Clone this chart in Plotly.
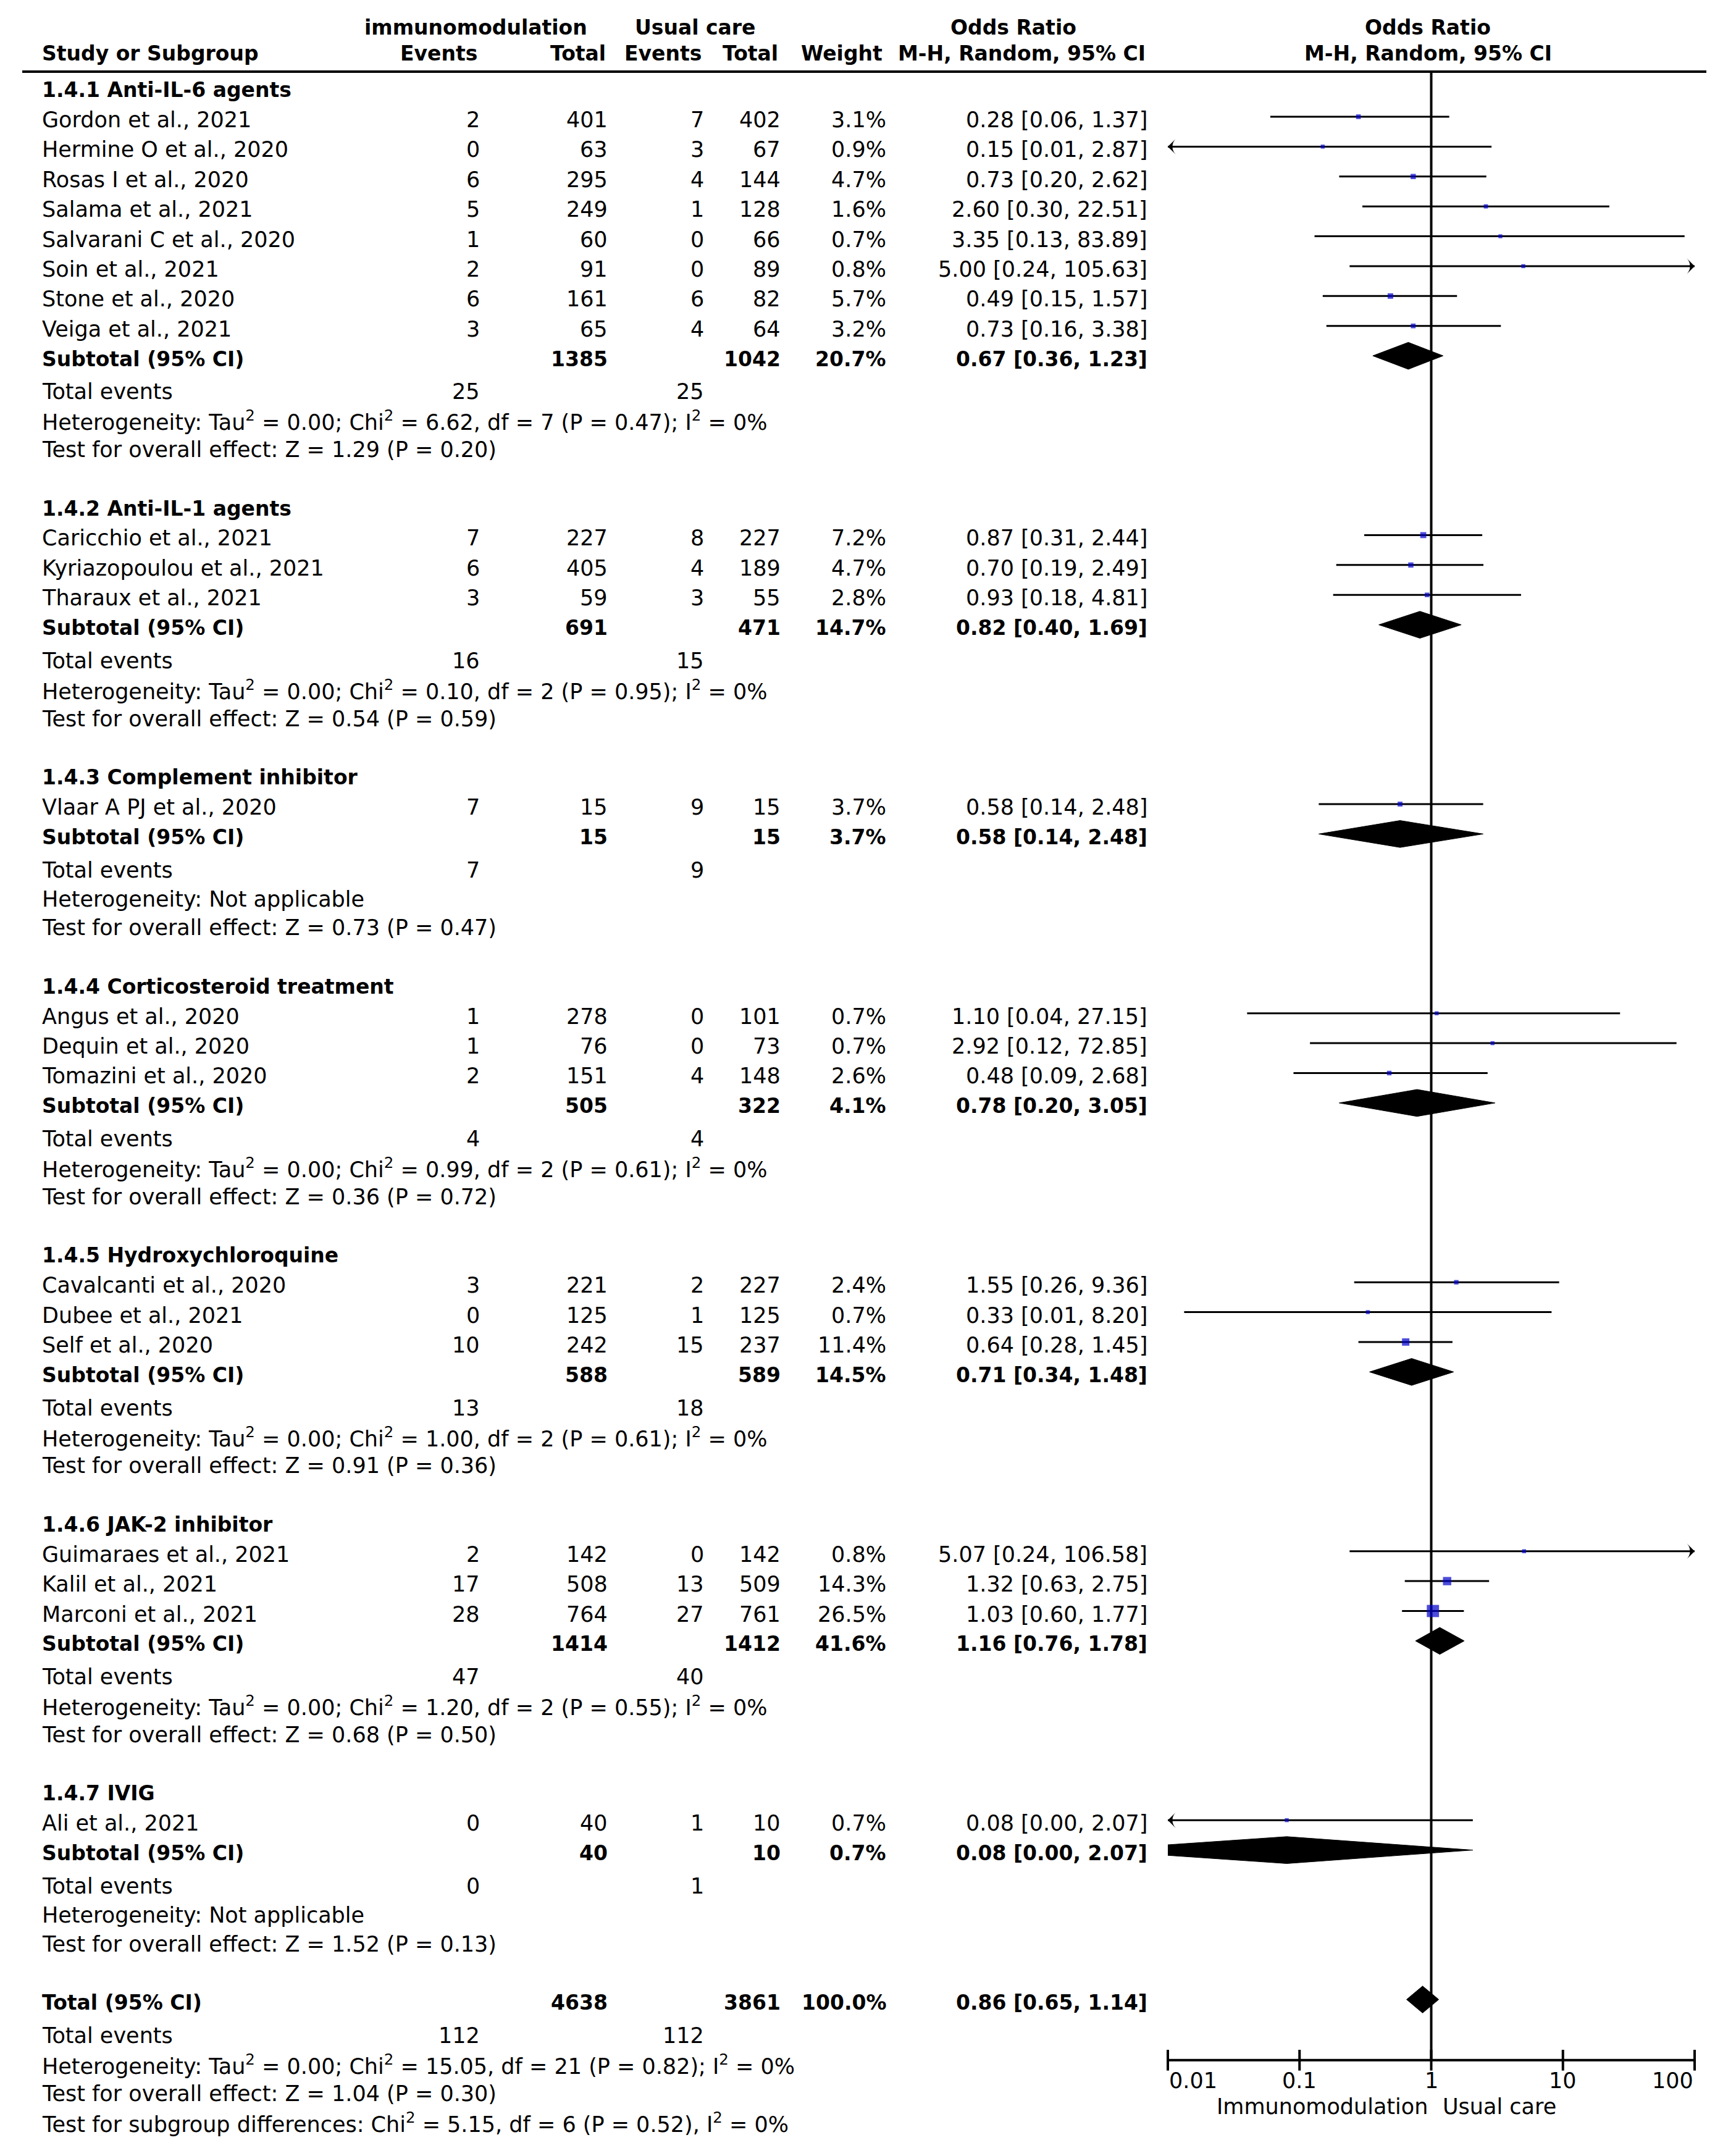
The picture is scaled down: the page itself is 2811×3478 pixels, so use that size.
import math
import plotly.graph_objects as go

# ---------------- data ----------------
group_titles = ["1.4.1 Anti-IL-6 agents", "1.4.2 Anti-IL-1 agents", "1.4.3 Complement inhibitor",
                "1.4.4 Corticosteroid treatment", "1.4.5 Hydroxychloroquine", "1.4.6 JAK-2 inhibitor",
                "1.4.7 IVIG"]
study_group = [0, 0, 0, 0, 0, 0, 0, 0, 1, 1, 1, 2, 3, 3, 3, 4, 4, 4, 5, 5, 5, 6]
study_names = ["Gordon et al., 2021", "Hermine O et al., 2020", "Rosas I et al., 2020", "Salama et al., 2021",
               "Salvarani C et al., 2020", "Soin et al., 2021", "Stone et al., 2020", "Veiga et al., 2021",
               "Caricchio et al., 2021", "Kyriazopoulou et al., 2021", "Tharaux et al., 2021",
               "Vlaar A PJ et al., 2020",
               "Angus et al., 2020", "Dequin et al., 2020", "Tomazini et al., 2020",
               "Cavalcanti et al., 2020", "Dubee et al., 2021", "Self et al., 2020",
               "Guimaraes et al., 2021", "Kalil et al., 2021", "Marconi et al., 2021",
               "Ali et al., 2021"]
ev_imm = [2, 0, 6, 5, 1, 2, 6, 3, 7, 6, 3, 7, 1, 1, 2, 3, 0, 10, 2, 17, 28, 0]
tot_imm = [401, 63, 295, 249, 60, 91, 161, 65, 227, 405, 59, 15, 278, 76, 151, 221, 125, 242, 142, 508, 764, 40]
ev_uc = [7, 3, 4, 1, 0, 0, 6, 4, 8, 4, 3, 9, 0, 0, 4, 2, 1, 15, 0, 13, 27, 1]
tot_uc = [402, 67, 144, 128, 66, 89, 82, 64, 227, 189, 55, 15, 101, 73, 148, 227, 125, 237, 142, 509, 761, 10]
weight = [3.1, 0.9, 4.7, 1.6, 0.7, 0.8, 5.7, 3.2, 7.2, 4.7, 2.8, 3.7, 0.7, 0.7, 2.6, 2.4, 0.7, 11.4,
          0.8, 14.3, 26.5, 0.7]
or_est = [0.28, 0.15, 0.73, 2.60, 3.35, 5.00, 0.49, 0.73, 0.87, 0.70, 0.93, 0.58, 1.10, 2.92, 0.48,
          1.55, 0.33, 0.64, 5.07, 1.32, 1.03, 0.08]
or_lo = [0.06, 0.008, 0.20, 0.30, 0.13, 0.24, 0.15, 0.16, 0.31, 0.19, 0.18, 0.14, 0.04, 0.12, 0.09,
         0.26, 0.0133, 0.28, 0.24, 0.63, 0.60, 0.0026]
or_hi = [1.37, 2.87, 2.62, 22.51, 83.89, 105.63, 1.57, 3.38, 2.44, 2.49, 4.81, 2.48, 27.15, 72.85, 2.68,
         9.36, 8.20, 1.45, 106.58, 2.75, 1.77, 2.07]

sub_tot_imm = [1385, 691, 15, 505, 588, 1414, 40]
sub_tot_uc = [1042, 471, 15, 322, 589, 1412, 10]
sub_weight = [20.7, 14.7, 3.7, 4.1, 14.5, 41.6, 0.7]
sub_est = [0.67, 0.82, 0.58, 0.78, 0.71, 1.16, 0.08]
sub_lo = [0.36, 0.40, 0.14, 0.20, 0.34, 0.76, 0.0026]
sub_hi = [1.23, 1.69, 2.48, 3.05, 1.48, 1.78, 2.07]
sub_ev_imm = [25, 16, 7, 4, 13, 47, 0]
sub_ev_uc = [25, 15, 9, 4, 18, 40, 1]
het_text = [
    "Heterogeneity: Tau<sup>2</sup> = 0.00; Chi<sup>2</sup> = 6.62, df = 7 (P = 0.47); I<sup>2</sup> = 0%",
    "Heterogeneity: Tau<sup>2</sup> = 0.00; Chi<sup>2</sup> = 0.10, df = 2 (P = 0.95); I<sup>2</sup> = 0%",
    "Heterogeneity: Not applicable",
    "Heterogeneity: Tau<sup>2</sup> = 0.00; Chi<sup>2</sup> = 0.99, df = 2 (P = 0.61); I<sup>2</sup> = 0%",
    "Heterogeneity: Tau<sup>2</sup> = 0.00; Chi<sup>2</sup> = 1.00, df = 2 (P = 0.61); I<sup>2</sup> = 0%",
    "Heterogeneity: Tau<sup>2</sup> = 0.00; Chi<sup>2</sup> = 1.20, df = 2 (P = 0.55); I<sup>2</sup> = 0%",
    "Heterogeneity: Not applicable",
]
effect_text = ["Test for overall effect: Z = 1.29 (P = 0.20)", "Test for overall effect: Z = 0.54 (P = 0.59)",
               "Test for overall effect: Z = 0.73 (P = 0.47)", "Test for overall effect: Z = 0.36 (P = 0.72)",
               "Test for overall effect: Z = 0.91 (P = 0.36)", "Test for overall effect: Z = 0.68 (P = 0.50)",
               "Test for overall effect: Z = 1.52 (P = 0.13)"]

total_tot_imm = 4638
total_tot_uc = 3861
total_weight = 100.0
total_est, total_lo, total_hi = 0.86, 0.65, 1.14
total_ev_imm, total_ev_uc = 112, 112
total_het = "Heterogeneity: Tau<sup>2</sup> = 0.00; Chi<sup>2</sup> = 15.05, df = 21 (P = 0.82); I<sup>2</sup> = 0%"
total_effect = "Test for overall effect: Z = 1.04 (P = 0.30)"
subgroup_diff = "Test for subgroup differences: Chi<sup>2</sup> = 5.15, df = 6 (P = 0.52), I<sup>2</sup> = 0%"

tick_vals = [0.01, 0.1, 1, 10, 100]
tick_text = ["0.01", "0.1", "1", "10", "100"]
favours_left = "Immunomodulation"
favours_right = "Usual care"

# ---------------- layout constants ----------------
W, H = 2811, 3478
FONT = "DejaVu Sans"
FS = 35
FS_BOLD = 33
U_PX = 48.39          # px per row unit
ROW0_PX = 189         # pixel of first study row
TEXT_SHIFT = -5
GAP_SUB_TE = 1.1
STAT_GAP = 0.97
GAP_GROUP = 1.96
XMIN, XMAX = 0.01, 100
FOREST_X0, FOREST_X1 = 1891, 2744
C_NAME = 66
C_EV1, C_TOT1, C_EV2, C_TOT2, C_W, C_OR = 779, 986, 1142, 1266, 1437, 1860
H_EV1, H_TOT1, H_EV2, H_TOT2, H_W, H_OR = 775, 983, 1138, 1262, 1431, 1857
C_FOREST_MID = 2312
DIAMOND_HALF = 0.45
BLUE = "#0000CC"

ann = []


def txt(x, y, s, anchor="left", bold=False, xref="x", yref="y"):
    ann.append(dict(x=x, y=y, xref=xref, yref=yref, text=f"<b>{s}</b>" if bold else s, showarrow=False,
                    xanchor=anchor, yanchor="middle", yshift=TEXT_SHIFT,
                    font=dict(family=FONT, size=FS_BOLD if bold else FS, color="black")))


def fmt_or(e, l, h):
    return f"{e:.2f} [{l:.2f}, {h:.2f}]"


# ---------------- header ----------------
HEAD1, HEAD2, RULE_Y = -3.08, -2.23, -1.51
txt(770, HEAD1, "immunomodulation", "center", True)
txt(1126, HEAD1, "Usual care", "center", True)
txt(1641, HEAD1, "Odds Ratio", "center", True)
txt(C_FOREST_MID, HEAD1, "Odds Ratio", "center", True)
txt(C_NAME, HEAD2, "Study or Subgroup", "left", True)
txt(H_EV1, HEAD2, "Events", "right", True)
txt(H_TOT1, HEAD2, "Total", "right", True)
txt(H_EV2, HEAD2, "Events", "right", True)
txt(H_TOT2, HEAD2, "Total", "right", True)
txt(H_W, HEAD2, "Weight", "right", True)
txt(H_OR, HEAD2, "M-H, Random, 95% CI", "right", True)
txt(C_FOREST_MID, HEAD2, "M-H, Random, 95% CI", "center", True)

# ---------------- rows ----------------
study_y = []
sub_y = []
hy = -1.0
for g, title in enumerate(group_titles):
    txt(C_NAME, hy, title, "left", True)
    idx = [i for i, sg in enumerate(study_group) if sg == g]
    for k, i in enumerate(idx):
        y = hy + 1 + k
        study_y.append(y)
        txt(C_NAME, y, study_names[i])
        txt(C_EV1, y, str(ev_imm[i]), "right")
        txt(C_TOT1, y, str(tot_imm[i]), "right")
        txt(C_EV2, y, str(ev_uc[i]), "right")
        txt(C_TOT2, y, str(tot_uc[i]), "right")
        txt(C_W, y, f"{weight[i]:.1f}%", "right")
        txt(C_OR, y, fmt_or(or_est[i], or_lo[i], or_hi[i]), "right")
    ys = hy + 1 + len(idx)
    sub_y.append(ys)
    txt(C_NAME, ys, "Subtotal (95% CI)", "left", True)
    txt(C_TOT1, ys, str(sub_tot_imm[g]), "right", True)
    txt(C_TOT2, ys, str(sub_tot_uc[g]), "right", True)
    txt(C_W, ys, f"{sub_weight[g]:.1f}%", "right", True)
    txt(C_OR, ys, fmt_or(sub_est[g], sub_lo[g], sub_hi[g]), "right", True)
    yte = ys + GAP_SUB_TE
    txt(C_NAME, yte, "Total events")
    txt(C_EV1, yte, str(sub_ev_imm[g]), "right")
    txt(C_EV2, yte, str(sub_ev_uc[g]), "right")
    txt(C_NAME, yte + STAT_GAP, het_text[g])
    txt(C_NAME, yte + 2 * STAT_GAP, effect_text[g])
    hy = yte + 2 * STAT_GAP + GAP_GROUP

ytot = hy
txt(C_NAME, ytot, "Total (95% CI)", "left", True)
txt(C_TOT1, ytot, str(total_tot_imm), "right", True)
txt(C_TOT2, ytot, str(total_tot_uc), "right", True)
txt(C_W, ytot, f"{total_weight:.1f}%", "right", True)
txt(C_OR, ytot, fmt_or(total_est, total_lo, total_hi), "right", True)
yte = ytot + GAP_SUB_TE
txt(C_NAME, yte, "Total events")
txt(C_EV1, yte, str(total_ev_imm), "right")
txt(C_EV2, yte, str(total_ev_uc), "right")
txt(C_NAME, yte + STAT_GAP, total_het)
txt(C_NAME, yte + 2 * STAT_GAP, total_effect)
txt(C_NAME, yte + 3 * STAT_GAP, subgroup_diff)

AXIS_Y = ytot + 2.03
TICKLAB_Y = AXIS_Y + 0.58
FAV_Y = AXIS_Y + 1.45

# ---------------- forest ----------------
fig = go.Figure()
FX = dict(xaxis="x2", yaxis="y2", hoverinfo="skip")

# vertical line of no effect
fig.add_trace(go.Scatter(x=[1, 1], y=[RULE_Y, AXIS_Y], mode="lines",
                         line=dict(color="black", width=4), **FX))

# CI lines
lx, ly = [], []
arrow_x, arrow_y, arrow_a = [], [], []
for i in range(len(study_names)):
    y = study_y[i]
    lo = max(or_lo[i], XMIN)
    hi = min(or_hi[i], XMAX)
    lx += [lo, hi, None]
    ly += [y, y, None]
    if or_lo[i] < XMIN:
        arrow_x.append(XMIN); arrow_y.append(y); arrow_a.append(-90)
    if or_hi[i] > XMAX:
        arrow_x.append(XMAX); arrow_y.append(y); arrow_a.append(90)
fig.add_trace(go.Scatter(x=lx, y=ly, mode="lines", line=dict(color="black", width=3),
                         cliponaxis=False, **FX))
fig.add_trace(go.Scatter(x=arrow_x, y=arrow_y, mode="markers",
                         marker=dict(symbol="arrow-wide", size=18, angle=arrow_a, color="black",
                                     line=dict(width=0)),
                         cliponaxis=False, **FX))

# squares
fig.add_trace(go.Scatter(x=or_est, y=study_y, mode="markers",
                         marker=dict(symbol="square", size=[6 + 0.52 * w for w in weight], color=BLUE,
                                     line=dict(width=0)),
                         cliponaxis=False, **FX))


def diamond(lo, est, hi, y, h):
    L, E, R = math.log10(lo), math.log10(est), math.log10(hi)
    a, b = math.log10(XMIN), math.log10(XMAX)
    pts = []
    if L < a:
        hh = h * (a - L) / (E - L)
        pts += [(a, y + hh), (a, y - hh)]
    else:
        pts += [(L, y)]
    pts += [(E, y - h)]
    if R > b:
        hh = h * (R - b) / (R - E)
        pts += [(b, y - hh), (b, y + hh)]
    else:
        pts += [(R, y)]
    pts += [(E, y + h)]
    pts.append(pts[0])
    return [10 ** p[0] for p in pts], [p[1] for p in pts]


for g in range(len(group_titles)):
    dx, dy = diamond(sub_lo[g], sub_est[g], sub_hi[g], sub_y[g], DIAMOND_HALF)
    fig.add_trace(go.Scatter(x=dx, y=dy, mode="lines", fill="toself", fillcolor="black",
                             line=dict(color="black", width=1), **FX))
dx, dy = diamond(total_lo, total_est, total_hi, ytot, DIAMOND_HALF)
fig.add_trace(go.Scatter(x=dx, y=dy, mode="lines", fill="toself", fillcolor="black",
                         line=dict(color="black", width=1), **FX))

# axis line + ticks
fig.add_trace(go.Scatter(x=[tick_vals[0], tick_vals[-1]], y=[AXIS_Y, AXIS_Y], mode="lines",
                         line=dict(color="black", width=4), **FX))
fig.add_trace(go.Scatter(x=tick_vals, y=[AXIS_Y] * len(tick_vals), mode="markers",
                         marker=dict(symbol="line-ns", size=24, line=dict(color="black", width=4)),
                         cliponaxis=False, **FX))
for k, (v, t) in enumerate(zip(tick_vals, tick_text)):
    anchor = "left" if k == 0 else ("right" if k == len(tick_vals) - 1 else "center")
    txt(math.log10(v), TICKLAB_Y, t, anchor, xref="x2", yref="y2")
ann.append(dict(x=0, y=FAV_Y, xref="x2", yref="y2", text=favours_left, showarrow=False, xanchor="right",
                yanchor="middle", xshift=-4, yshift=TEXT_SHIFT, font=dict(family=FONT, size=FS, color="black")))
ann.append(dict(x=0, y=FAV_Y, xref="x2", yref="y2", text=favours_right, showarrow=False, xanchor="left",
                yanchor="middle", xshift=16, yshift=TEXT_SHIFT, font=dict(family=FONT, size=FS, color="black")))

Y_RANGE = [(H - ROW0_PX) / U_PX, -ROW0_PX / U_PX]
fig.update_layout(
    width=W, height=H, margin=dict(l=0, r=0, t=0, b=0, pad=0),
    paper_bgcolor="white", plot_bgcolor="rgba(0,0,0,0)", showlegend=False,
    xaxis=dict(range=[0, W], domain=[0, 1], visible=False, fixedrange=True, anchor="y"),
    yaxis=dict(range=Y_RANGE, domain=[0, 1], visible=False, fixedrange=True, anchor="x"),
    xaxis2=dict(type="log", range=[math.log10(XMIN), math.log10(XMAX)],
                domain=[FOREST_X0 / W, FOREST_X1 / W], anchor="y2", visible=False, fixedrange=True),
    yaxis2=dict(range=Y_RANGE, domain=[0, 1], anchor="x2", visible=False, fixedrange=True),
    annotations=ann,
    shapes=[dict(type="line", xref="x", yref="y", x0=36, x1=2763, y0=RULE_Y, y1=RULE_Y,
                 line=dict(color="black", width=4))],
)

fig.write_html("out.html", config={"displayModeBar": False},
               post_script="document.body.style.margin='0px';document.body.style.overflow='hidden';")
